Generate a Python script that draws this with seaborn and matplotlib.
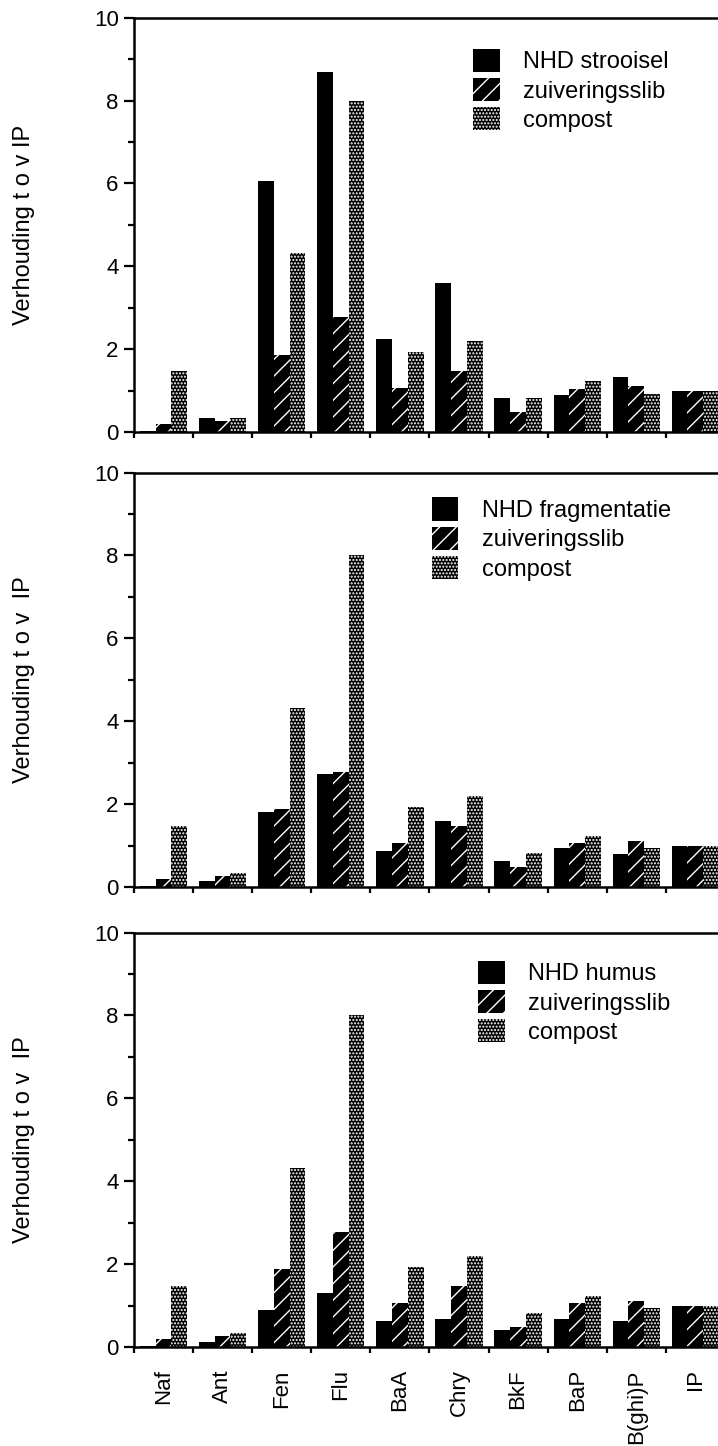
import numpy as np
import pandas as pd
import matplotlib
matplotlib.use("Agg")
import matplotlib.pyplot as plt
import seaborn as sns

# PAK-verhoudingen t.o.v. IP
categories = ["Naf", "Ant", "Fen", "Flu", "BaA", "Chry", "BkF", "BaP", "B(ghi)P", "IP"]

nhd_strooisel    = [0.02, 0.33, 6.05, 8.70, 2.25, 3.60, 0.82, 0.90, 1.32, 1.00]
nhd_fragmentatie = [0.02, 0.15, 1.82, 2.72, 0.88, 1.58, 0.62, 0.95, 0.80, 1.00]
nhd_humus        = [0.02, 0.13, 0.88, 1.30, 0.62, 0.68, 0.42, 0.68, 0.63, 1.00]
zuiveringsslib   = [0.20, 0.27, 1.87, 2.77, 1.07, 1.48, 0.49, 1.05, 1.12, 1.00]
compost          = [1.47, 0.33, 4.32, 8.00, 1.93, 2.20, 0.81, 1.24, 0.93, 1.00]

nhd_labels = ["NHD strooisel", "NHD fragmentatie", "NHD humus"]
ylabels = ["Verhouding t o v IP", "Verhouding t o v  IP", "Verhouding t o v  IP"]

sns.set_style("ticks")
plt.rcParams["font.family"] = ["Liberation Sans", "DejaVu Sans"]
plt.rcParams["hatch.linewidth"] = 1.0
plt.rcParams["axes.linewidth"] = 1.8
for k in ["text.color", "axes.labelcolor", "xtick.color", "ytick.color", "axes.edgecolor"]:
    plt.rcParams[k] = "black"

fig = plt.figure(figsize=(7.18, 14.46), dpi=100)

# axes placement (figure fractions) and legend anchors (axes fractions)
bottoms = [0.7012, 0.3866, 0.0685]
leg_xy = [(0.574, 0.925), (0.504, 0.94), (0.582, 0.932)]
hatches = ["", "//", "....."]

for i, (nhd, lab) in enumerate(zip([nhd_strooisel, nhd_fragmentatie, nhd_humus], nhd_labels)):
    ax = fig.add_axes([0.1866, bottoms[i], 0.823, 0.2866])
    order = [lab, "zuiveringsslib", "compost"]
    df = pd.DataFrame({
        "stof": categories * 3,
        "waarde": nhd + zuiveringsslib + compost,
        "bron": [lab] * 10 + ["zuiveringsslib"] * 10 + ["compost"] * 10,
    })
    sns.barplot(data=df, x="stof", y="waarde", hue="bron", hue_order=order,
                palette=["black"] * 3, saturation=1, width=0.8, gap=0,
                edgecolor="white", linewidth=0, legend=False, ax=ax)
    for cont, h in zip(ax.containers, hatches):
        for p in cont:
            p.set_hatch(h)

    ax.legend(ax.containers, order, loc="upper left", bbox_to_anchor=leg_xy[i],
              frameon=False, fontsize=17, handlelength=1.13, handleheight=1.13,
              labelspacing=0.2, handletextpad=1.0, borderpad=0, borderaxespad=0)

    ax.set_ylim(0, 10)
    ax.set_xlim(-0.5, 9.5)
    ax.set_yticks([0, 2, 4, 6, 8, 10])
    ax.set_yticks([1, 3, 5, 7, 9], minor=True)
    ax.set_xticks(range(len(categories)))
    ax.set_xticks(np.arange(-0.5, len(categories), 1), minor=True)
    ax.tick_params(axis="y", which="major", length=7, width=1.6, labelsize=16, pad=4)
    ax.tick_params(axis="y", which="minor", length=4, width=1.6)
    ax.tick_params(axis="x", which="major", length=0, pad=16)
    ax.tick_params(axis="x", which="minor", length=4, width=1.6, direction="out")
    for s in ["top", "left", "bottom"]:
        ax.spines[s].set_visible(True)
        ax.spines[s].set_linewidth(1.8)
    ax.spines["right"].set_visible(False)

    ax.set_xlabel("")
    ax.set_ylabel(ylabels[i], fontsize=17)
    ax.yaxis.set_label_coords(-0.168, 0.5)
    if i < 2:
        ax.set_xticklabels([])
    else:
        ax.set_xticklabels(categories, rotation=90, fontsize=16)

fig.savefig("out.png", dpi=100)
